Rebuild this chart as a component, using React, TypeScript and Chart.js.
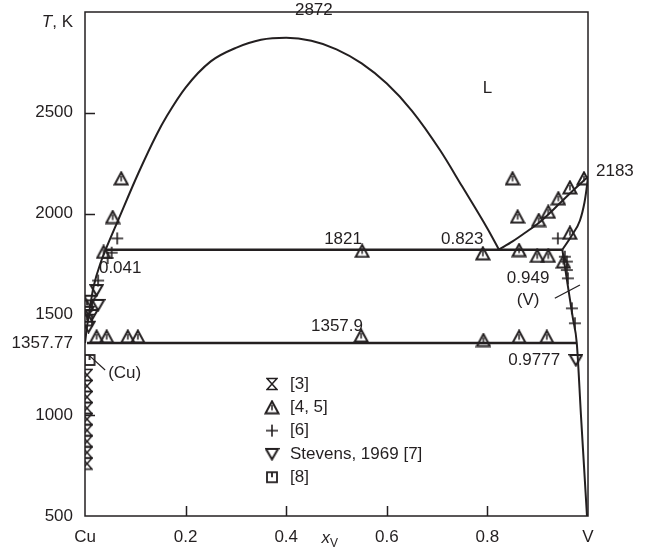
import React, { useEffect, useRef } from "react";
import { Chart, registerables } from "chart.js";
Chart.register(...registerables);

const INK = "#231f20";
const FONT = "'Liberation Sans', Arial, Helvetica, sans-serif";

// axis ticks
const xTickValues = [0, 0.2, 0.4, 0.6, 0.8, 1];
const xTickLabels = ["Cu", "0.2", "0.4", "0.6", "0.8", "V"];
const yTickValues = [500, 1000, 1357.77, 1500, 2000, 2500];
const yTickLabels = ["500", "1000", "1357.77", "1500", "2000", "2500"];
const xInnerTicks = [0.2, 0.4, 0.6, 0.8];
const yInnerTicks = [1000, 1500, 2000, 2500];

// phase boundaries
const domeX = [0, 0.003, 0.009, 0.017, 0.033, 0.041, 0.066, 0.106, 0.142, 0.163, 0.2, 0.25, 0.3, 0.35, 0.4, 0.45, 0.5, 0.55, 0.6, 0.65, 0.706, 0.75, 0.8, 0.823];
const domeT = [1357.77, 1420, 1520, 1637, 1770, 1821, 1968, 2200, 2390, 2485, 2625, 2755, 2822, 2862, 2872, 2857, 2815, 2745, 2645, 2510, 2314, 2134, 1926, 1821];
const vLiquidusX = [0.823, 0.85, 0.875, 0.905, 0.944, 0.964, 1.0];
const vLiquidusT = [1821, 1862, 1905, 1960, 2051, 2100, 2183];
const vSolidusX = [0.949, 0.968, 0.984, 0.993, 0.997, 1.0];
const vSolidusT = [1821, 1893, 1966, 2055, 2120, 2183];
const vSolvusX = [0.949, 0.96, 0.97, 0.9777, 0.986, 0.992, 0.998];
const vSolvusT = [1821, 1640, 1480, 1357.9, 1000, 750, 500];
const monotecticX = [0.041, 0.949];
const monotecticT = [1821, 1821];
const eutecticX = [0.004, 0.9777];
const eutecticT = [1357.9, 1357.9];
const vLeaderX = [0.934, 0.984];
const vLeaderT = [1580, 1646];
const cuLeaderX = [0.007, 0.04];
const cuLeaderT = [1299, 1224];

// experimental points
const ref3X = [0.004, 0.004, 0.004, 0.004, 0.004, 0.004, 0.004, 0.004, 0.004];
const ref3T = [1200, 1145, 1090, 1035, 980, 925, 870, 815, 760];
const ref45X = [0.072, 0.055, 0.037, 0.023, 0.043, 0.085, 0.105, 0.551, 0.549, 0.85, 0.86, 0.791, 0.863, 0.899, 0.921, 0.951, 0.964, 0.902, 0.921, 0.941, 0.964, 0.992, 0.792, 0.863, 0.918];
const ref45T = [2175, 1983, 1810, 1390, 1390, 1390, 1390, 1815, 1395, 2175, 1985, 1803, 1819, 1790, 1790, 1762, 1905, 1968, 2009, 2076, 2130, 2175, 1373, 1389, 1389];
const ref6X = [0.064, 0.053, 0.045, 0.026, 0.94, 0.954, 0.958, 0.958, 0.96, 0.968, 0.974];
const ref6T = [1877, 1806, 1780, 1668, 1877, 1786, 1762, 1720, 1679, 1530, 1456];
const stevensX = [0.023, 0.01, 0.026, 0.005, 0.013, 0.007, 0.976];
const stevensT = [1621, 1568, 1547, 1513, 1497, 1439, 1274];
const ref8X = [0.004, 0.004, 0.009];
const ref8T = [1545, 1470, 1274];

const legendLabels = ["[3]", "[4, 5]", "[6]", "Stevens, 1969 [7]", "[8]"];

const zip = (xs: number[], ys: number[]) => xs.map((x, i) => ({ x, y: ys[i] }));

function makeCanvas(w: number, h: number, draw: (c: CanvasRenderingContext2D) => void) {
  const c = document.createElement("canvas");
  c.width = w;
  c.height = h;
  const ctx = c.getContext("2d")!;
  ctx.strokeStyle = INK;
  ctx.lineJoin = "miter";
  draw(ctx);
  return c;
}

export default function App() {
  const ref = useRef<HTMLCanvasElement | null>(null);
  useEffect(() => {
    const triUp = makeCanvas(16, 15, (c) => {
      c.lineWidth = 2;
      c.beginPath();
      c.moveTo(8, 1.5);
      c.lineTo(14.5, 13.5);
      c.lineTo(1.5, 13.5);
      c.closePath();
      c.stroke();
      c.lineWidth = 1.5;
      c.beginPath();
      c.moveTo(8, 5);
      c.lineTo(8, 10.5);
      c.stroke();
    });
    const triDown = makeCanvas(15, 14, (c) => {
      c.lineWidth = 2;
      c.beginPath();
      c.moveTo(1.5, 2);
      c.lineTo(13.5, 2);
      c.lineTo(7.5, 12.5);
      c.closePath();
      c.stroke();
    });
    const hourglass = makeCanvas(12, 14, (c) => {
      c.lineWidth = 1.6;
      c.beginPath();
      c.moveTo(1, 1.5);
      c.lineTo(11, 1.5);
      c.lineTo(1, 12.5);
      c.lineTo(11, 12.5);
      c.closePath();
      c.stroke();
    });
    const squareNotch = makeCanvas(14, 14, (c) => {
      c.lineWidth = 1.8;
      c.strokeRect(2, 2, 10, 10);
      c.beginPath();
      c.moveTo(7, 2);
      c.lineTo(7, 7);
      c.stroke();
    });
    const plus = makeCanvas(14, 14, (c) => {
      c.lineWidth = 1.6;
      c.beginPath();
      c.moveTo(1, 7);
      c.lineTo(13, 7);
      c.moveTo(7, 1);
      c.lineTo(7, 13);
      c.stroke();
    });

    const lineDs = (xs: number[], ys: number[], width = 2, smooth = true) => ({
      type: "scatter" as const,
      data: zip(xs, ys),
      showLine: true,
      borderColor: INK,
      borderWidth: width,
      pointRadius: 0,
      cubicInterpolationMode: smooth ? ("monotone" as const) : ("default" as const),
      tension: 0,
    });
    const ptDs = (xs: number[], ys: number[], style: any, clip?: any) => ({
      type: "scatter" as const,
      data: zip(xs, ys),
      pointStyle: style,
      pointRadius: 7,
      borderColor: INK,
      backgroundColor: "rgba(0,0,0,0)",
      showLine: false,
      ...(clip !== undefined ? { clip } : {}),
    });

    const overlay = {
      id: "overlay",
      afterDraw(chart: any) {
        const { ctx, chartArea: a, scales } = chart;
        const xs = scales.x;
        const ys = scales.y;
        ctx.save();
        ctx.strokeStyle = INK;
        ctx.fillStyle = INK;
        ctx.lineWidth = 1.5;
        ctx.strokeRect(a.left, a.top, a.right - a.left, a.bottom - a.top);
        // inner ticks
        ctx.beginPath();
        xInnerTicks.forEach((v) => {
          const px = Math.round(xs.getPixelForValue(v)) + 0.5;
          ctx.moveTo(px, a.bottom);
          ctx.lineTo(px, a.bottom - 10);
        });
        yInnerTicks.forEach((v) => {
          const py = Math.round(ys.getPixelForValue(v)) + 0.5;
          ctx.moveTo(a.left, py);
          ctx.lineTo(a.left + 10, py);
        });
        ctx.stroke();

        const X = (v: number) => xs.getPixelForValue(v);
        const Y = (v: number) => ys.getPixelForValue(v);
        ctx.font = `17px ${FONT}`;
        ctx.textBaseline = "middle";
        const text = (s: string, x: number, y: number, align: CanvasTextAlign = "center") => {
          ctx.textAlign = align;
          ctx.fillText(s, x, y);
        };
        text("2872", X(0.455), a.top - 2);
        text("L", X(0.80), Y(2623));
        text("2183", a.right + 8, Y(2183) - 5, "left");
        text("1821", X(0.513), Y(1821) - 10);
        text("0.823", X(0.75), Y(1821) - 10);
        text("0.041", X(0.07), Y(1821) + 19);
        text("0.949", X(0.881), Y(1680));
        text("(V)", X(0.881), Y(1571));
        text("1357.9", X(0.501), Y(1357.9) - 17);
        text("0.9777", X(0.893), Y(1357.9) + 17);
        text("(Cu)", X(0.046), Y(1209), "left");

        // y title
        ctx.textAlign = "right";
        const rest = ", K";
        const rw = ctx.measureText(rest).width;
        ctx.fillText(rest, a.left - 12, a.top + 10);
        ctx.font = `italic 17px ${FONT}`;
        ctx.fillText("T", a.left - 12 - rw, a.top + 10);
        // x title
        ctx.textAlign = "left";
        ctx.font = `italic 17px ${FONT}`;
        ctx.fillText("x", X(0.47), a.bottom + 22);
        const xw = ctx.measureText("x").width;
        ctx.font = `12px ${FONT}`;
        ctx.fillText("V", X(0.47) + xw, a.bottom + 28);

        // legend
        const icons = [hourglass, triUp, plus, triDown, squareNotch];
        ctx.font = `17px ${FONT}`;
        ctx.textAlign = "left";
        legendLabels.forEach((lab, i) => {
          const cy = 384 + i * 23.3;
          const ic = icons[i];
          ctx.drawImage(ic, 272 - ic.width / 2, cy - ic.height / 2);
          ctx.fillText(lab, 290, cy);
        });
        ctx.restore();
      },
    };

    const chart = new Chart(ref.current!, {
      type: "scatter",
      data: {
        datasets: [
          lineDs(domeX, domeT, 2),
          lineDs(vLiquidusX, vLiquidusT, 2),
          lineDs(vSolidusX, vSolidusT, 2),
          lineDs(vSolvusX, vSolvusT, 2),
          lineDs(monotecticX, monotecticT, 2.5, false),
          lineDs(eutecticX, eutecticT, 2.5, false),
          lineDs(vLeaderX, vLeaderT, 1.2, false),
          lineDs(cuLeaderX, cuLeaderT, 1.2, false),
          ptDs(ref3X, ref3T, hourglass, { left: 0, top: false, right: false, bottom: false }),
          ptDs(ref45X, ref45T, triUp),
          ptDs(ref6X, ref6T, plus),
          ptDs(stevensX, stevensT, triDown),
          ptDs(ref8X, ref8T, squareNotch),
        ] as any,
      },
      options: {
        responsive: false,
        animation: false,
        events: [],
        layout: { padding: { left: 0, right: 58, top: 12, bottom: 0 } },
        plugins: { legend: { display: false }, tooltip: { enabled: false } },
        scales: {
          x: {
            type: "linear",
            min: 0,
            max: 1,
            afterFit: (s: any) => {
              s.height = 31;
              s.paddingLeft = 0;
              s.paddingRight = 0;
              s.paddingTop = 0;
              s.paddingBottom = 0;
            },
            afterBuildTicks: (s: any) => {
              s.ticks = xTickValues.map((v) => ({ value: v }));
            },
            ticks: {
              callback: (v: any) => xTickLabels[xTickValues.indexOf(Number(v))] ?? "",
              padding: 11,
              color: INK,
              font: { size: 17, family: FONT },
              autoSkip: false,
              maxRotation: 0,
            },
            grid: { display: false, drawTicks: false },
            border: { display: false },
          },
          y: {
            type: "linear",
            min: 500,
            max: 3000,
            afterFit: (s: any) => {
              s.width = 85;
              s.paddingTop = 0;
              s.paddingBottom = 0;
              s.paddingLeft = 0;
              s.paddingRight = 0;
            },
            afterBuildTicks: (s: any) => {
              s.ticks = yTickValues.map((v) => ({ value: v }));
            },
            ticks: {
              callback: (v: any) => yTickLabels[yTickValues.indexOf(Number(v))] ?? "",
              padding: 12,
              color: INK,
              font: { size: 17, family: FONT },
              autoSkip: false,
            },
            grid: { display: false, drawTicks: false },
            border: { display: false },
          },
        },
      },
      plugins: [overlay],
    } as any);
    return () => chart.destroy();
  }, []);
  return (
    <div style={{ position: "absolute", left: 0, top: 0, width: 646, height: 547, background: "#fff" }}>
      <canvas ref={ref} width={646} height={547} style={{ display: "block" }} />
    </div>
  );
}
